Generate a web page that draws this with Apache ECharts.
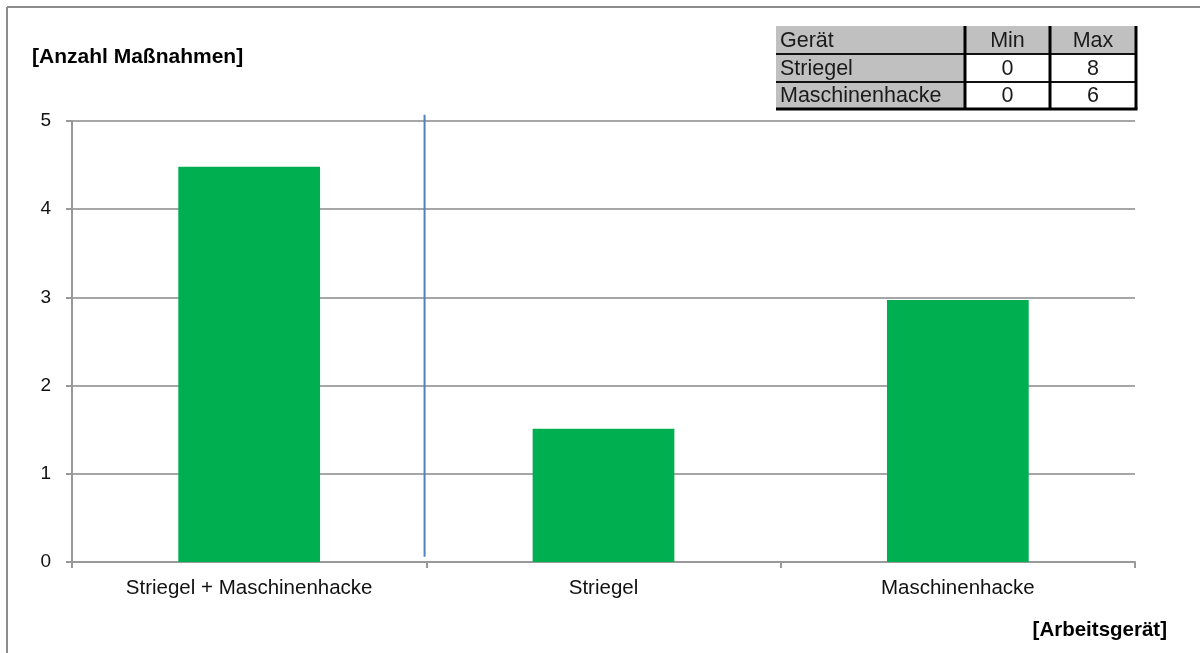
<!DOCTYPE html>
<html>
<head>
<meta charset="utf-8">
<script src="https://cdn.jsdelivr.net/npm/echarts@6/dist/echarts.min.js"></script>
<style>
  html, body { margin: 0; padding: 0; background: #fff; }
  #main { width: 1200px; height: 653px; }
</style>
</head>
<body>
<div id="main"></div>
<script>
// Daten
var kategorien = ['Striegel + Maschinenhacke', 'Striegel', 'Maschinenhacke']
var anzahl = [4.48, 1.51, 2.97]
var yTicks = [0, 1, 2, 3, 4, 5]
// Trennlinie zwischen Kombination und Einzelgeräten (x auf Hilfsachse 0..3, y in Anzahl)
var trennerX = [0.995, 0.995]
var trennerY = [5.07, 0.06]

// Tabelle oben rechts
var tabKopf = ['Gerät', 'Min', 'Max']
var tabGeraet = ['Striegel', 'Maschinenhacke']
var tabMin = [0, 0]
var tabMax = [8, 6]

var myChart = echarts.init(document.getElementById('main'))

// Tabelle als graphic bauen
var colX = [776, 965, 1050, 1136]
var rowY = [26, 54, 82, 109]
var tabElemente = []
var zeilen = [tabKopf]
for (var i = 0; i < tabGeraet.length; i++) {
    zeilen.push([tabGeraet[i], String(tabMin[i]), String(tabMax[i])])
}
zeilen.forEach(function (zeile, r) {
    zeile.forEach(function (txt, c) {
        var grau = (r === 0 || c === 0)
        tabElemente.push({
            type: 'rect',
            shape: { x: colX[c], y: rowY[r], width: colX[c + 1] - colX[c], height: rowY[r + 1] - rowY[r] },
            style: { fill: grau ? '#c0c0c0' : '#ffffff' },
            z: 10
        })
        tabElemente.push({
            type: 'text',
            x: c === 0 ? colX[c] + 4 : (colX[c] + colX[c + 1]) / 2,
            y: (rowY[r] + rowY[r + 1]) / 2 + 1,
            style: {
                text: txt,
                fontFamily: 'Arial, Liberation Sans',
                fontSize: 21.5,
                fill: '#1a1a1a',
                align: c === 0 ? 'left' : 'center',
                verticalAlign: 'middle'
            },
            z: 12
        })
    })
})
// Linien der Tabelle
for (var k = 1; k < rowY.length - 1; k++) {
    tabElemente.push({
        type: 'line',
        shape: { x1: colX[0], y1: rowY[k], x2: colX[3], y2: rowY[k] },
        style: { stroke: '#111', lineWidth: 2 },
        z: 11
    })
}
tabElemente.push({
    type: 'line',
    shape: { x1: colX[0], y1: rowY[3], x2: colX[3] + 1.5, y2: rowY[3] },
    style: { stroke: '#000', lineWidth: 3 },
    z: 11
})
for (var m = 1; m < colX.length; m++) {
    tabElemente.push({
        type: 'line',
        shape: { x1: colX[m], y1: rowY[0], x2: colX[m], y2: rowY[3] },
        style: { stroke: '#000', lineWidth: 3 },
        z: 11
    })
}

// Rahmen oben und links
tabElemente.push({
    type: 'line',
    shape: { x1: 7, y1: 7, x2: 1200, y2: 7 },
    style: { stroke: '#8c8c8c', lineWidth: 2 }
})
tabElemente.push({
    type: 'line',
    shape: { x1: 7, y1: 7, x2: 7, y2: 653 },
    style: { stroke: '#8c8c8c', lineWidth: 2 }
})

var option = {
    animation: false,
    backgroundColor: '#fff',
    textStyle: { fontFamily: 'Arial, Liberation Sans' },
    title: [
        {
            text: '[Anzahl Maßnahmen]',
            left: 27,
            top: 42,
            textStyle: { fontSize: 21, fontWeight: 'bold', color: '#000' }
        },
        {
            text: '[Arbeitsgerät]',
            right: 28,
            top: 615,
            textStyle: { fontSize: 20.5, fontWeight: 'bold', color: '#000' }
        }
    ],
    grid: {
        left: 72,
        right: 65,
        top: 121,
        bottom: 91,
        containLabel: false
    },
    xAxis: [
        {
            type: 'category',
            data: kategorien,
            axisLine: { lineStyle: { color: '#999', width: 2 } },
            axisTick: { show: true, length: 6, lineStyle: { color: '#999', width: 2 } },
            axisLabel: { fontSize: 20.5, color: '#111', margin: 16 },
            splitLine: { show: false }
        },
        {
            type: 'value',
            min: 0,
            max: 3,
            show: false
        }
    ],
    yAxis: {
        type: 'value',
        min: yTicks[0],
        max: yTicks[yTicks.length - 1],
        interval: 1,
        axisLine: { show: true, lineStyle: { color: '#999', width: 2 } },
        axisTick: { show: true, length: 6, lineStyle: { color: '#999', width: 2 } },
        axisLabel: { fontSize: 19, color: '#111', margin: 21 },
        splitLine: { lineStyle: { color: '#a6a6a6', width: 2 } }
    },
    graphic: tabElemente,
    series: [
        {
            name: 'Anzahl',
            type: 'bar',
            data: anzahl,
            barWidth: '40%',
            itemStyle: { color: '#00b050' }
        },
        {
            name: 'Trenner',
            type: 'line',
            xAxisIndex: 1,
            clip: false,
            silent: true,
            showSymbol: false,
            symbol: 'none',
            data: trennerX.map(function (x, j) { return [x, trennerY[j]] }),
            lineStyle: { color: '#4f81bd', width: 2 },
            z: 5
        }
    ]
}

myChart.setOption(option)
</script>
</body>
</html>
